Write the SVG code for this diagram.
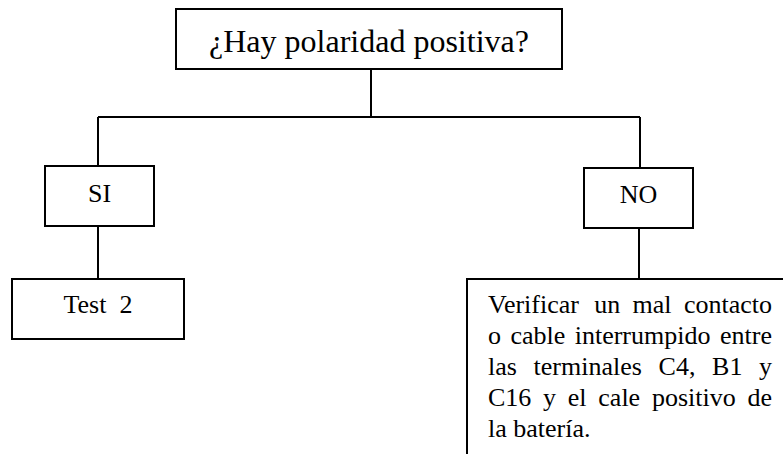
<svg xmlns="http://www.w3.org/2000/svg" width="783" height="454" viewBox="0 0 783 454">
<style>
.box{fill:#fff;stroke:#000;stroke-width:2}
.ln{fill:none;stroke:#000;stroke-width:2}
text{font-family:"Liberation Serif","Times New Roman",serif;fill:#000}
.c{text-anchor:middle;font-size:26px}
.b{font-size:26px}
</style>
<rect width="783" height="454" fill="#fff"/>
<g id="connectors">
<line class="ln" x1="371" y1="69" x2="371" y2="117"/>
<line class="ln" x1="98" y1="117" x2="640" y2="117"/>
<line class="ln" x1="98" y1="117" x2="98" y2="166"/>
<line class="ln" x1="640" y1="117" x2="640" y2="168"/>
<line class="ln" x1="98" y1="226" x2="98" y2="279"/>
<line class="ln" x1="639" y1="228" x2="639" y2="279"/>
</g>
<g id="q">
<rect class="box" x="176" y="9" width="386" height="60"/>
<text x="369" y="52" text-anchor="middle" font-size="32">¿Hay polaridad positiva?</text>
</g>
<g id="si">
<rect class="box" x="45" y="166" width="109" height="60"/>
<text class="c" x="99.5" y="202">SI</text>
</g>
<g id="no">
<rect class="box" x="584" y="168" width="109" height="60"/>
<text class="c" x="638.5" y="203">NO</text>
</g>
<g id="test2">
<rect class="box" x="12" y="279" width="172" height="60"/>
<text class="c" x="98" y="313" xml:space="preserve">Test  2</text>
</g>
<g id="verificar">
<path class="ln" d="M467 454V279H785"/>
<text class="b" y="313"><tspan x="488">Verificar</tspan><tspan x="594.2">un</tspan><tspan x="632.6">mal</tspan><tspan x="684">contacto</tspan></text>
<text class="b" y="344"><tspan x="488">o</tspan><tspan x="510.4">cable</tspan><tspan x="574.7">interrumpido</tspan><tspan x="720">entre</tspan></text>
<text class="b" y="375"><tspan x="488">las</tspan><tspan x="533.6">terminales</tspan><tspan x="658.6">C4,</tspan><tspan x="712.1">B1</tspan><tspan x="759.1">y</tspan></text>
<text class="b" y="406"><tspan x="488">C16</tspan><tspan x="543">y</tspan><tspan x="567.8">el</tspan><tspan x="598.3">cale</tspan><tspan x="651.9">positivo</tspan><tspan x="747.5">de</tspan></text>
<text class="b" x="488" y="437">la batería.</text>
</g>
</svg>
